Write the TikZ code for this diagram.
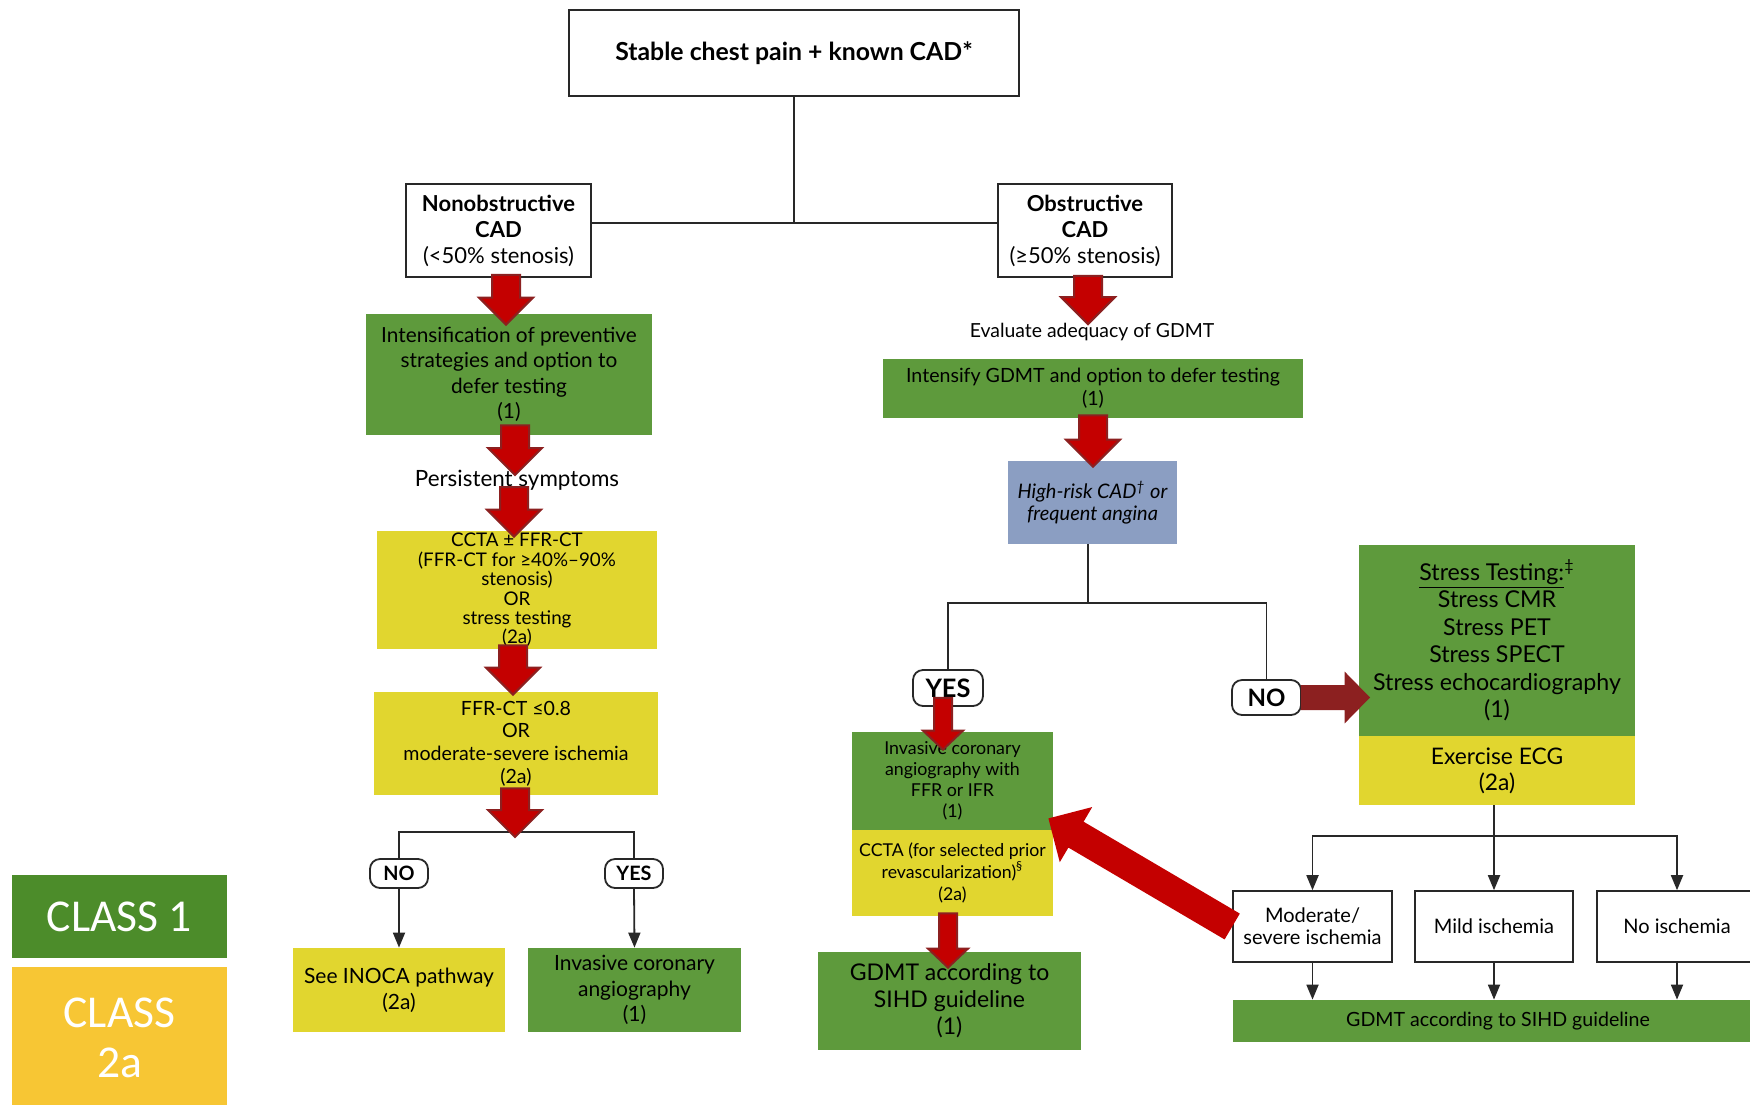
\documentclass[tikz,border=0pt]{standalone}
\usepackage{fontspec}
\setmainfont{Lato}
\newfontfamily\legendfont{Carlito}
\usetikzlibrary{arrows.meta,calc}

\definecolor{classone}{RGB}{94,154,60}
\definecolor{classtwo}{RGB}{225,214,47}
\definecolor{riskblue}{RGB}{139,158,194}
\definecolor{arrowred}{RGB}{196,0,0}
\definecolor{arrowedge}{RGB}{140,32,32}
\definecolor{legendgreen}{RGB}{76,140,42}
\definecolor{legendgold}{RGB}{247,198,52}
\definecolor{linegray}{RGB}{40,40,40}

\newcommand{\fs}[2]{\fontsize{#1}{#2}\selectfont}

\tikzset{
  plain/.style={draw=linegray, line width=0.8pt, fill=white, align=center, inner sep=1pt},
  greenbox/.style={fill=classone, align=center, inner sep=1pt},
  yellowbox/.style={fill=classtwo, align=center, inner sep=1pt},
  choice/.style={draw=linegray, line width=0.9pt, fill=white, rounded corners=5pt, inner sep=1pt},
  link/.style={draw=linegray, line width=0.9pt},
  flow/.style={link, -{Triangle[length=7.5pt,width=6pt]}},
  fat/.style n args={3}{fill=arrowred, draw=arrowedge, line width=1pt, line join=miter,
    to path={($(\tikztostart)!#1!90:(\tikztotarget)$)
      -- ($(\tikztotarget)!#3!(\tikztostart)!#1!90:(\tikztotarget)$)
      -- ($(\tikztotarget)!#3!(\tikztostart)!#2!90:(\tikztotarget)$)
      -- (\tikztotarget)
      -- ($(\tikztotarget)!#3!(\tikztostart)!#2!-90:(\tikztotarget)$)
      -- ($(\tikztotarget)!#3!(\tikztostart)!#1!-90:(\tikztotarget)$)
      -- ($(\tikztostart)!#1!-90:(\tikztotarget)$) -- cycle}},
}

\begin{document}
\begin{tikzpicture}[x=0.5pt, y=-0.5pt]
    % Page
    \fill[white] (0,0) rectangle (1750,1104);
    \useasboundingbox (0,0) rectangle (1750,1104);

    % Top of the tree
    \node[plain, minimum width=225pt, minimum height=43pt, font=\bfseries\fs{12.4}{14}] (top) at (794,53) {Stable chest pain + known CAD*};
    \node[plain, minimum width=92.5pt, minimum height=46.5pt, font=\fs{11}{13}] (nonob) at (498.5,230.5) {\textbf{Nonobstructive}\\\textbf{CAD}\\(<50\% stenosis)};
    \node[plain, minimum width=87pt, minimum height=46.5pt, font=\fs{11}{13}] (obst) at (1085,230.5) {\textbf{Obstructive}\\\textbf{CAD}\\(≥50\% stenosis)};

    % Nonobstructive branch
    \node[greenbox, minimum width=143pt, minimum height=60.5pt, font=\fs{10.4}{12.7}] (prev) at (509,374.5) {Intensification of preventive\\strategies and option to\\defer testing\\(1)};
    \node[font=\fs{11.2}{13}] (persist) at (517,480) {Persistent symptoms};
    \node[yellowbox, minimum width=140pt, minimum height=59pt, font=\fs{9.4}{9.7}] (ccta) at (517,590) {CCTA ± FFR-CT\\(FFR-CT for ≥40\%–90\%\\stenosis)\\OR\\stress testing\\(2a)};
    \node[yellowbox, minimum width=142pt, minimum height=51.5pt, font=\fs{9.8}{11.3}] (ffr) at (516,743.5) {FFR-CT ≤0.8\\OR\\moderate-severe ischemia\\(2a)};
    \node[choice, minimum width=29pt, minimum height=14.5pt, font=\bfseries\fs{9.9}{11}] (no1) at (399,873.5) {NO};
    \node[choice, minimum width=29pt, minimum height=14.5pt, font=\bfseries\fs{9.9}{11}] (yes1) at (634,873.5) {YES};
    \node[yellowbox, minimum width=106pt, minimum height=42pt, font=\fs{10.5}{12.8}] (inoca) at (399,990) {See INOCA pathway\\(2a)};
    \node[greenbox, minimum width=106.5pt, minimum height=42pt, font=\fs{10.5}{12.8}] (ica) at (634.5,990) {Invasive coronary\\angiography\\(1)};

    % Obstructive branch
    \node[font=\fs{9.7}{11}] (evalt) at (1092,332) {Evaluate adequacy of GDMT};
    \node[greenbox, minimum width=210pt, minimum height=29.5pt, font=\fs{9.8}{11.5}] (gdmt) at (1093,388.5) {Intensify GDMT and option to defer testing\\(1)};
    \node[fill=riskblue, align=center, minimum width=84.5pt, minimum height=41.5pt, font=\itshape\fs{10}{11.2}] (risk) at (1092.5,502.5) {High-risk CAD\textsuperscript{†} or\\frequent angina};
    \node[choice, minimum width=35pt, minimum height=18pt, font=\bfseries\fs{12.7}{14}] (yes2) at (948,688) {YES};
    \node[choice, minimum width=34.5pt, minimum height=17.5pt, font=\bfseries\fs{12}{14}] (no2) at (1266.5,697.5) {NO};
    \node[greenbox, minimum width=100.5pt, minimum height=49pt, font=\fs{8.9}{10.5}] (ica2) at (952.5,781) {Invasive coronary\\angiography with\\FFR or IFR\\(1)};
    \node[yellowbox, minimum width=100.5pt, minimum height=43pt, font=\fs{8.85}{10.8}] (ccta2) at (952.5,873) {CCTA (for selected prior\\revascularization)\textsuperscript{§}\\(2a)};
    \node[greenbox, minimum width=131.5pt, minimum height=49pt, font=\fs{11.5}{13.5}] (gdmt1) at (949.5,1001) {GDMT according to\\SIHD guideline\\(1)};
    \node[greenbox, minimum width=138pt, minimum height=95.5pt, font=\fs{11.6}{13.75}] (stress) at (1497,640.5) {\underline{Stress Testing:}\textsuperscript{‡}\\Stress CMR\\Stress PET\\Stress SPECT\\Stress echocardiography\\(1)};
    \node[yellowbox, minimum width=138pt, minimum height=34.5pt, font=\fs{11.4}{13}] (exer) at (1497,770.5) {Exercise ECG\\(2a)};
    \node[plain, minimum width=79.5pt, minimum height=35.5pt, font=\fs{10}{11}] (mod) at (1312.5,926.5) {Moderate/\\severe ischemia};
    \node[plain, minimum width=79pt, minimum height=35.5pt, font=\fs{10}{11}] (mild) at (1494,926.5) {Mild ischemia};
    \node[plain, minimum width=80pt, minimum height=35.5pt, font=\fs{10}{11}] (noisch) at (1677,926.5) {No ischemia};
    \node[greenbox, minimum width=265pt, minimum height=21pt, font=\fs{9.8}{11}] (gdmt2) at (1498,1021) {GDMT according to SIHD guideline};

    % Legend
    \node[fill=legendgreen, minimum width=107.5pt, minimum height=41.5pt, text=white, font=\legendfont\fs{22.8}{26}] (cls1) at (119.5,916.5) {CLASS 1};
    \node[fill=legendgold, minimum width=107.5pt, minimum height=71pt, text=white, align=center, font=\legendfont\fs{22.8}{25}] (cls2) at (119.5,1038) {CLASS\\2a};

    % Thin connectors
    \coordinate (jt) at (794,223);
    \draw[link] (top.south) -- (jt);
    \draw[link] (nonob.east |- jt) -- (obst.west |- jt);
    \coordinate (jl) at (515,832);
    \draw[link] (no1.north) |- (jl) -| (yes1.north);
    \draw[flow] (no1.south) -- (inoca.north);
    \draw[flow] (yes1.south) -- (ica.north);
    \coordinate (jr) at (1088,603);
    \draw[link] (risk.south -| jr) -- (jr);
    \draw[link] (yes2.north) |- (jr) -| (no2.north);
    \coordinate (jb) at (1494,836);
    \draw[link] (exer.south -| jb) -- (jb);
    \draw[flow] (jb) -| (mod.north);
    \draw[flow] (jb) -- (mild.north);
    \draw[flow] (jb) -| (noisch.north);
    \draw[flow] (mod.south) -- (mod.south |- gdmt2.north);
    \draw[flow] (mild.south) -- (mild.south |- gdmt2.north);
    \draw[flow] (noisch.south) -- (noisch.south |- gdmt2.north);

    % Red block arrows
    \draw[fat={7pt}{13.5pt}{13.5pt}] ($(nonob.south)+(7.5,-3)$) to ($(prev.north)+(-3,11)$);
    \draw[fat={7pt}{13.5pt}{13.5pt}] ($(prev.south)+(6,-10)$) to ($(persist.center)+(-2,-5)$);
    \draw[fat={7pt}{13.5pt}{13.5pt}] ($(persist.center)+(-3,7)$) to ($(ccta.north)+(-3,6)$);
    \draw[fat={7pt}{13.5pt}{13.5pt}] ($(ccta.south)+(-4,-4)$) to ($(ffr.north)+(-3,3)$);
    \draw[fat={7pt}{13.5pt}{13.5pt}] ($(ffr.south)+(-1,-7)$) to ($(jl)+(0,5)$);
    \draw[fat={7pt}{13.5pt}{13.5pt}] ($(obst.south)+(3,-2)$) to ($(evalt.north)+(-4,8)$);
    \draw[fat={7pt}{13.5pt}{13.5pt}] ($(gdmt.south)+(0,-3)$) to ($(risk.north)+(0.5,6)$);
    \draw[fat={4.5pt}{10pt}{9.5pt}] ($(yes2.south)+(-5,-9)$) to ($(ica2.north)+(-9.5,18)$);
    \draw[fat={4.5pt}{10pt}{9.5pt}] ($(ccta2.south)+(-4.5,-3)$) to ($(gdmt1.north)+(-1.5,16)$);
    \draw[fat={5.75pt}{11.75pt}{11.5pt}, fill=arrowedge] (no2.east) to ($(no2.east -| stress.west)+(10,0)$);
    \draw[fat={7.5pt}{16pt}{16pt}, draw=none] (mod.west) to ($(ica2.south east)+(-5,-12)$);
\end{tikzpicture}
\end{document}
